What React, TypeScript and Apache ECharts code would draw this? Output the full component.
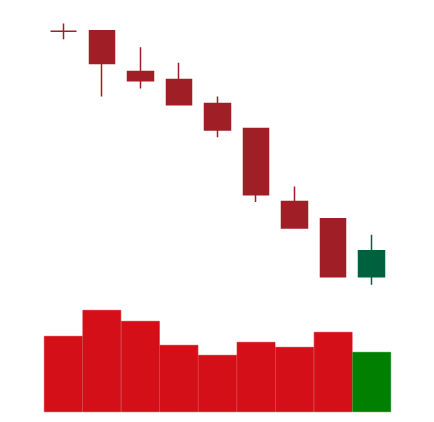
import React, { useEffect, useRef } from "react";
import * as echarts from "echarts";

const categories = ["1", "2", "3", "4", "5", "6", "7", "8", "9"];
// [open, close, low, high]
const ohlc: number[][] = [
  [167.2, 167.2, 165.2, 169.1],
  [167.3, 159.1, 150.9, 167.3],
  [157.1, 154.8, 152.9, 163.2],
  [155.1, 148.8, 148.8, 159.3],
  [149.1, 142.5, 140.7, 150.9],
  [142.9, 126.3, 124.5, 142.9],
  [124.6, 118.0, 118.0, 128.4],
  [120.3, 105.8, 105.8, 120.3],
  [105.8, 112.3, 103.8, 116.3],
];
const volumes = [760, 1020, 910, 670, 570, 700, 650, 800, 600];

const UP = "#00613f";
const DOWN = "#a01f27";
const VOL_UP = "#007f00";
const VOL_DOWN = "#d40f18";

export default function App() {
  const ref = useRef<HTMLDivElement>(null);
  useEffect(() => {
    if (!ref.current) return;
    const chart = echarts.init(ref.current, undefined, { renderer: "svg" });
    const candleData = ohlc.map((d) => {
      const down = d[1] <= d[0];
      return {
        value: d,
        itemStyle: down
          ? { color: DOWN, color0: DOWN, borderColor: DOWN, borderColor0: DOWN, borderColorDoji: DOWN }
          : { color: UP, color0: UP, borderColor: UP, borderColor0: UP },
      };
    });
    const volData = volumes.map((v, i) => {
      const c = ohlc[i][1] > ohlc[i][0] ? VOL_UP : VOL_DOWN;
      return {
        value: v,
        itemStyle: { color: c, borderColor: c, borderWidth: 0.6 },
      };
    });
    chart.setOption({
      animation: false,
      backgroundColor: "#ffffff",
      grid: [
        { left: 44, width: 347, top: 20, height: 280 },
        { left: 44, width: 347, top: 300, height: 112 },
      ],
      xAxis: [
        { type: "category", data: categories, gridIndex: 0, show: false, boundaryGap: true },
        { type: "category", data: categories, gridIndex: 1, show: false, boundaryGap: true },
      ],
      yAxis: [
        { type: "value", gridIndex: 0, min: 100, max: 170, show: false, splitLine: { show: false } },
        { type: "value", gridIndex: 1, min: 0, max: 1120, show: false, splitLine: { show: false } },
      ],
      series: [
        {
          type: "candlestick",
          xAxisIndex: 0,
          yAxisIndex: 0,
          barWidth: 26,
          data: candleData,
          itemStyle: {
            color: UP,
            color0: DOWN,
            borderColor: UP,
            borderColor0: DOWN,
            borderWidth: 1.5,
          },
        },
        {
          type: "bar",
          xAxisIndex: 1,
          yAxisIndex: 1,
          barCategoryGap: "0%",
          barWidth: "100%",
          data: volData,
        },
      ],
    });
    return () => chart.dispose();
  }, []);
  return (
    <div
      ref={ref}
      style={{ position: "fixed", left: 0, top: 0, width: 434, height: 422 }}
    />
  );
}
